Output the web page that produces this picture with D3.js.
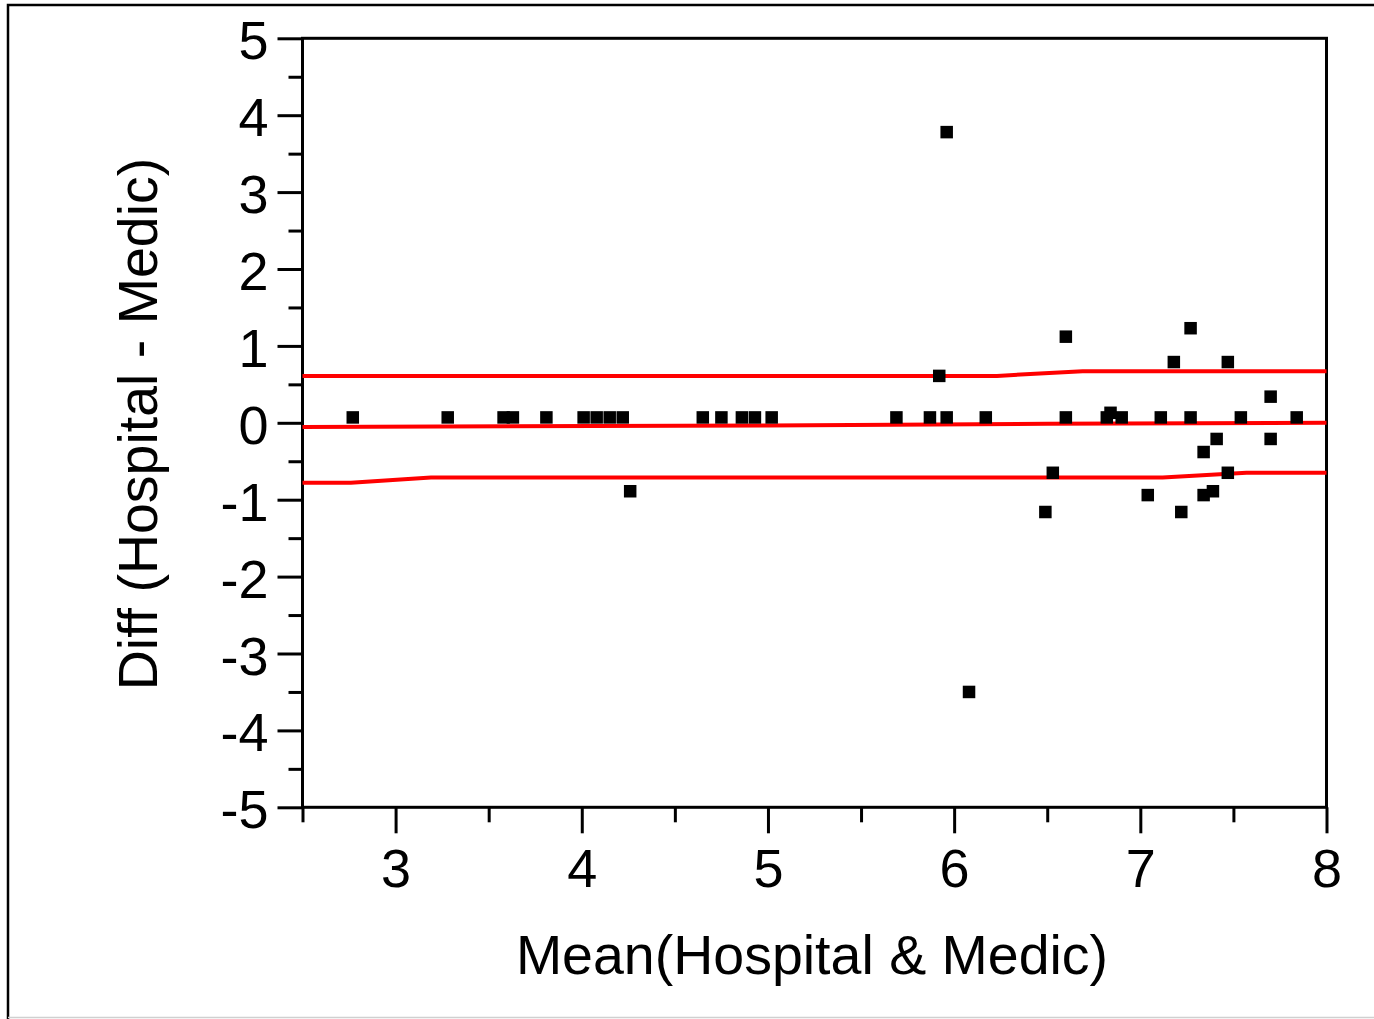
<!DOCTYPE html>
<html>
<head>
<meta charset="utf-8">
<script src="https://cdn.jsdelivr.net/npm/d3@7"></script>
<style>
  html, body { margin: 0; padding: 0; background: #fff; }
  svg { display: block; font-family: Arial, "Liberation Sans", sans-serif; }
</style>
</head>
<body>
<div id="chart"></div>
<script>
// Bland-Altman points: mean of the two readings vs their difference
const meanVals = [2.77, 3.28, 3.58, 3.63, 3.81, 4.01, 4.08, 4.15, 4.22, 4.26,
    4.65, 4.75, 4.86, 4.93, 5.02, 5.69, 5.87, 5.92, 5.96, 5.96, 6.08, 6.17,
    6.49, 6.53, 6.60, 6.60, 6.82, 6.84, 6.90, 7.04, 7.11, 7.18, 7.22, 7.27,
    7.27, 7.34, 7.34, 7.39, 7.41, 7.47, 7.47, 7.54, 7.70, 7.70, 7.84]
const diffVals = [0.07, 0.07, 0.07, 0.07, 0.07, 0.07, 0.07, 0.07, 0.07, -0.89,
    0.07, 0.07, 0.07, 0.07, 0.07, 0.07, 0.07, 0.61, 3.78, 0.07, -3.50, 0.07,
    -1.16, -0.65, 1.12, 0.07, 0.07, 0.13, 0.07, -0.94, 0.07, 0.79, -1.16, 1.23,
    0.07, -0.38, -0.94, -0.89, -0.21, 0.79, -0.65, 0.07, 0.34, -0.21, 0.07]

// fitted limit lines
const upperLine = [[2.5, 0.61], [6.23, 0.61], [6.69, 0.67], [8, 0.67]]
const centerLine = [[2.5, -0.055], [5, -0.035], [6.5, -0.012], [8, 0.0]]
const lowerLine = [[2.5, -0.78], [2.76, -0.78], [3.19, -0.71], [7.12, -0.71], [7.57, -0.65], [8, -0.65]]

const xMajor = [3, 4, 5, 6, 7, 8]
const xMinor = [2.5, 3.5, 4.5, 5.5, 6.5, 7.5]
const yMajor = [-5, -4, -3, -2, -1, 0, 1, 2, 3, 4, 5]
const yMinor = [-4.5, -3.5, -2.5, -1.5, -0.5, 0.5, 1.5, 2.5, 3.5, 4.5]

const width = 1374, height = 1019
const margin = ({ top: 38.3, right: 47.5, bottom: 211.7, left: 302.5 })

const x = d3.scaleLinear()
    .domain([2.5, 8])
    .range([margin.left, width - margin.right])
const y = d3.scaleLinear()
    .domain([-5, 5])
    .range([height - margin.bottom, margin.top])

const svg = d3.select("#chart")
    .append("svg")
    .attr("width", width)
    .attr("height", height)

// outer frame
svg.append("path")
    .attr("d", `M${width + 5},5 H8 V${height + 5}`)
    .attr("fill", "none")
    .attr("stroke", "#000")
    .attr("stroke-width", 2.5)
svg.append("line")
    .attr("x1", 8).attr("x2", width)
    .attr("y1", 1017.5).attr("y2", 1017.5)
    .attr("stroke", "#d0d0d0")
    .attr("stroke-width", 1.5)

const styleAxis = g => g
    .call(g => g.select(".domain").remove())
    .call(g => g.selectAll("line").attr("stroke", "#000").attr("stroke-width", 3))
    .call(g => g.selectAll("text").attr("fill", "#000").attr("font-size", 54))

// x axis
svg.append("g")
    .attr("transform", `translate(0,${y(-5)})`)
    .call(d3.axisBottom(x).tickValues(xMinor).tickSize(15).tickFormat(""))
    .call(styleAxis)
svg.append("g")
    .attr("transform", `translate(0,${y(-5)})`)
    .call(d3.axisBottom(x).tickValues(xMajor).tickSize(26).tickPadding(15).tickFormat(d => String(d)))
    .call(styleAxis)
    .call(g => g.selectAll("text").attr("dy", "0.71em"))

// y axis
svg.append("g")
    .attr("transform", `translate(${x(2.5)},0)`)
    .call(d3.axisLeft(y).tickValues(yMinor).tickSize(14).tickFormat(""))
    .call(styleAxis)
svg.append("g")
    .attr("transform", `translate(${x(2.5)},0)`)
    .call(d3.axisLeft(y).tickValues(yMajor).tickSize(25).tickPadding(9).tickFormat(d => String(d)))
    .call(styleAxis)
    .call(g => g.selectAll("text").attr("dy", "0.38em"))

// plot frame
svg.append("rect")
    .attr("x", x(2.5))
    .attr("y", y(5))
    .attr("width", x(8) - x(2.5))
    .attr("height", y(-5) - y(5))
    .attr("fill", "none")
    .attr("stroke", "#000")
    .attr("stroke-width", 3)

// limit lines
const line = d3.line().x(d => x(d[0])).y(d => y(d[1]))
svg.append("g")
    .attr("fill", "none")
    .attr("stroke", "#ff0000")
    .attr("stroke-width", 4)
    .selectAll("path")
    .data([upperLine, centerLine, lowerLine])
    .join("path")
    .attr("d", line)

// points
const s = 12.5
svg.append("g")
    .selectAll("rect")
    .data(d3.range(meanVals.length))
    .join("rect")
    .attr("x", i => x(meanVals[i]) - s / 2)
    .attr("y", i => y(diffVals[i]) - s / 2)
    .attr("width", s)
    .attr("height", s)
    .attr("fill", "#000")

// axis titles
svg.append("text")
    .attr("x", 812)
    .attr("y", 974)
    .attr("text-anchor", "middle")
    .attr("font-size", 55.5)
    .attr("fill", "#000")
    .text("Mean(Hospital & Medic)")

svg.append("text")
    .attr("transform", `translate(157,424) rotate(-90)`)
    .attr("text-anchor", "middle")
    .attr("font-size", 55.5)
    .attr("fill", "#000")
    .text("Diff (Hospital - Medic)")
</script>
</body>
</html>
